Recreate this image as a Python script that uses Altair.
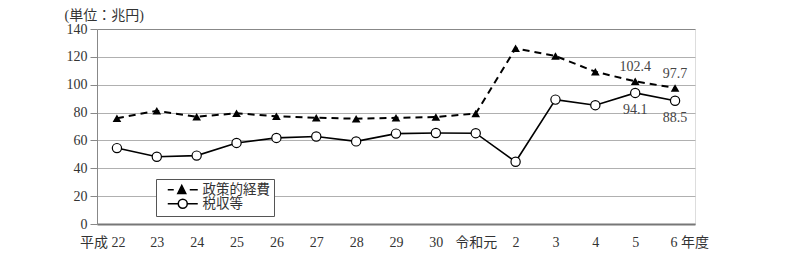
import altair as alt
import pandas as pd

categories = ["22", "23", "24", "25", "26", "27", "28", "29", "30", "令和元", "2", "3", "4", "5", "6"]
policy_exp = [75.9, 81.3, 77.0, 79.5, 77.3, 76.3, 75.6, 76.2, 76.8, 79.3, 126.1, 120.6, 109.3, 102.4, 97.7]
tax_rev = [54.5, 48.3, 49.1, 58.2, 61.8, 62.8, 59.3, 64.9, 65.3, 65.2, 44.7, 89.3, 85.3, 94.1, 88.5]
series_names = ["政策的経費", "税収等"]
labelled = ["5", "6"]

df = pd.DataFrame({"cat": categories, "policy": policy_exp, "tax": tax_rev})

SERIF = "Liberation Serif, Noto Sans CJK JP"

x_axis = alt.Axis(
    title=None,
    labelAngle=0,
    ticks=False,
    domainColor="#777777",
    domainWidth=2,
    labelPadding=11,
    labelFont=SERIF,
    labelFontSize=14,
    labelColor="#333333",
    labelExpr="datum.value == '22' ? '平成 22' : datum.value == '6' ? '6 年度' : datum.value",
    labelAlign={"condition": [
        {"test": "datum.value == '22'", "value": "right"},
        {"test": "datum.value == '6'", "value": "left"}], "value": "center"},
    labelOffset={"condition": [
        {"test": "datum.value == '22'", "value": 8},
        {"test": "datum.value == '6'", "value": -5}], "value": 0},
    grid=False,
)

y_scale = alt.Scale(domain=[0, 140], nice=False)
y_axis = alt.Axis(
    values=[0, 20, 40, 60, 80, 100, 120, 140],
    labelOverlap=False,
    title="(単位：兆円)",
    titleAngle=0,
    titleAlign="left",
    titleBaseline="alphabetic",
    titleX=-33,
    titleY=-10,
    titleFont=SERIF,
    titleFontSize=14,
    titleFontWeight="normal",
    titleColor="#333333",
    grid=True,
    gridColor={"condition": {"test": "datum.value == 140", "value": "#888888"}, "value": "#b0b0b0"},
    gridWidth=1,
    domainColor="#888888",
    tickColor="#888888",
    tickSize=7,
    labelPadding=3,
    labelFont=SERIF,
    labelFontSize=14,
    labelColor="#333333",
)


def X():
    return alt.X("cat:N", sort=categories, scale=alt.Scale(type="point", padding=0.5), axis=x_axis)


def Y(field):
    return alt.Y(field, scale=y_scale, axis=y_axis)


base = alt.Chart(df)

line_policy = base.mark_line(color="black", strokeWidth=2, strokeDash=[7, 5]).encode(x=X(), y=Y("policy:Q"))
line_tax = base.mark_line(color="black", strokeWidth=1.6).encode(x=X(), y=Y("tax:Q"))

pts_policy = base.mark_point(shape="triangle-up", filled=True, color="black", size=75, opacity=1).encode(
    x=X(), y=Y("policy:Q"))
pts_tax = base.mark_point(shape="circle", filled=True, fill="white", stroke="black", strokeWidth=1.2,
                          size=85, opacity=1).encode(x=X(), y=Y("tax:Q"))

lab_policy = base.transform_filter(
    alt.FieldOneOfPredicate(field="cat", oneOf=labelled)
).mark_text(font=SERIF, fontSize=14, color="#444444", dy=-14).encode(
    x=X(), y=Y("policy:Q"), text=alt.Text("policy:Q", format=".1f"))
lab_tax = base.transform_filter(
    alt.FieldOneOfPredicate(field="cat", oneOf=labelled)
).mark_text(font=SERIF, fontSize=14, color="#444444", dy=17).encode(
    x=X(), y=Y("tax:Q"), text=alt.Text("tax:Q", format=".1f"))

sym_policy = "M-1,0H0.2M1,0.75L1.8,-0.85L2.6,0.75ZM3.4,0H5"
sym_tax = "M-1,0H1.1M1.1,0A0.9,0.9 0 1,1 2.9,0A0.9,0.9 0 1,1 1.1,0M2.9,0H5"

legend_def = alt.Legend(title=None, orient="none", legendX=59, legendY=150,
                        direction="vertical", fillColor="white", strokeColor="#555555",
                        padding=4, symbolOffset=6, labelOffset=23, rowPadding=-1,
                        labelFont=SERIF, labelFontSize=13.5, labelColor="#333333",
                        symbolStrokeWidth=1.5, symbolSize=100, symbolOpacity=1)

legend_df = pd.DataFrame({"series": series_names, "cat": [categories[0]] * 2, "v": [0, 0]})
legend_layer = alt.Chart(legend_df).transform_filter("false").mark_point(
    filled=True, strokeWidth=1.5, size=100).encode(
    x=X(),
    y=Y("v:Q"),
    shape=alt.Shape("series:N", scale=alt.Scale(domain=series_names, range=[sym_policy, sym_tax]),
                    legend=legend_def),
    fill=alt.Fill("series:N", scale=alt.Scale(domain=series_names, range=["black", "white"]),
                  legend=legend_def),
    stroke=alt.Stroke("series:N", scale=alt.Scale(domain=series_names, range=["black", "black"]),
                      legend=legend_def),
)

chart = alt.layer(
    line_policy, line_tax, pts_policy, pts_tax, lab_policy, lab_tax, legend_layer
).properties(
    width=598, height=195,
    autosize=alt.AutoSizeParams(type="none"),
    padding={"left": 97, "top": 29, "right": 105, "bottom": 31},
).configure_view(stroke=None).configure(background="white")

chart.save("out.html", embed_options={"renderer": "svg", "actions": False})
